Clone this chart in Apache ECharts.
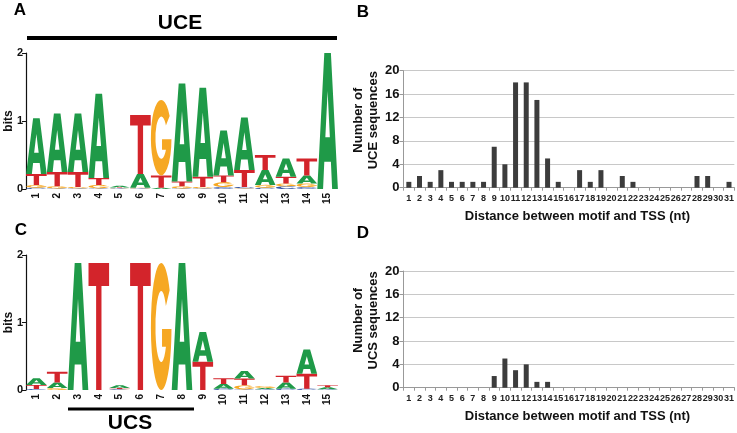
<!DOCTYPE html>
<html><head><meta charset="utf-8">
<script src="https://cdn.jsdelivr.net/npm/echarts@6/dist/echarts.min.js"></script>
<style>html,body{margin:0;padding:0;background:#fff}#c{width:737px;height:433px}</style>
</head><body><div id="c"></div>
<script>
// ---- data ----
const logoPositions = ['1','2','3','4','5','6','7','8','9','10','11','12','13','14','15'];
// UCE logo (bits per letter)
const uceA = [0.82,0.86,0.86,1.24,0.025,0.20,0.02,1.44,1.31,0.66,0.77,0.22,0.27,0.12,2.00];
const uceC = [0.02,0.01,0.01,0.01,0.008,0.01,0.00,0.01,0.01,0.03,0.02,0.02,0.04,0.03,0.00];
const uceG = [0.04,0.03,0.02,0.05,0.005,0.01,1.11,0.03,0.02,0.07,0.01,0.04,0.04,0.05,0.00];
const uceT = [0.16,0.21,0.22,0.10,0.01,0.87,0.18,0.07,0.15,0.10,0.25,0.22,0.10,0.25,0.00];
// UCS logo (bits per letter)
const ucsA = [0.10,0.08,1.88,0.00,0.04,0.00,0.00,1.88,0.44,0.07,0.11,0.02,0.09,0.36,0.03];
const ucsC = [0.015,0.00,0.00,0.00,0.01,0.00,0.00,0.00,0.00,0.02,0.01,0.01,0.02,0.02,0.01];
const ucsG = [0.00,0.03,0.00,0.00,0.005,0.00,1.88,0.00,0.00,0.00,0.06,0.03,0.00,0.00,0.00];
const ucsT = [0.06,0.16,0.00,1.88,0.015,1.88,0.00,0.00,0.42,0.085,0.10,0.00,0.10,0.22,0.03];
// distance histograms
const distanceCats = ['1','2','3','4','5','6','7','8','9','10','11','12','13','14','15','16','17','18','19','20','21','22','23','24','25','26','27','28','29','30','31'];
const uceCounts = [1,2,1,3,1,1,1,1,7,4,18,18,15,5,1,0,3,1,3,0,2,1,0,0,0,0,0,2,2,0,1];
const ucsCounts = [0,0,0,0,0,0,0,0,2,5,3,4,1,1,0,0,0,0,0,0,0,0,0,0,0,0,0,0,0,0,0];

// ---- letter glyphs ----
const LETTERS = ['A','C','G','T'];
const COLORS = {A:'#1f9a48', C:'#3153a4', G:'#f6a823', T:'#d3242b'};
const PATHS = {
  A:'M0,100 L34,0 L66,0 L100,100 L72,100 L66,80 L34,80 L28,100 Z M39,62 L61,62 L50,28 Z',
  T:'M0,0 L100,0 L100,18 L63,18 L63,100 L37,100 L37,18 L0,18 Z',
  G:'M90.96,21.32 A50,50 0 1 0 100,50 L100,52 L54,52 L54,66 L73,66 A28,28 0 1 1 72.9,33.9 Z',
  C:'M90.96,21.32 A50,50 0 1 0 90.96,78.68 L72.9,66.1 A28,28 0 1 1 72.9,33.9 Z'
};
function logoData(a, c, g, t) {
  const out = [];
  for (let i = 0; i < a.length; i++) {
    const items = [[0,a[i]],[1,c[i]],[2,g[i]],[3,t[i]]].filter(d => d[1] > 0).sort((p,q) => p[1]-q[1]);
    let base = 0;
    items.forEach(d => { out.push([i, base, base + d[1], d[0]]); base += d[1]; });
  }
  return out;
}
function renderLetter(params, api) {
  const x = api.value(0), y0 = api.value(1), y1 = api.value(2);
  const L = LETTERS[api.value(3)];
  const pTop = api.coord([x, y1]), pBot = api.coord([x, y0]);
  const bw = api.size([1, 0])[0];
  const w = bw * 0.99, h = pBot[1] - pTop[1];
  if (h < 0.2) return null;
  return {type:'path', shape:{pathData:PATHS[L], x:pTop[0]-w/2, y:pTop[1], width:w, height:h, layout:'cover'}, style:{fill:COLORS[L]}};
}

const FF = '"Liberation Sans", Arial, Helvetica, sans-serif';
const chart = echarts.init(document.getElementById('c'));
function logoX(gi){return {gridIndex:gi,type:'category',data:logoPositions,boundaryGap:true,axisLine:{show:false},axisTick:{show:false},
  axisLabel:{rotate:90,interval:0,fontSize:10,fontWeight:'bold',color:'#111',margin:4,fontFamily:FF}};}
function logoY(gi){return {gridIndex:gi,type:'value',min:0,max:2,interval:1,name:'bits',nameLocation:'middle',nameGap:11,nameMoveOverlap:false,
  nameTextStyle:{fontSize:12,fontWeight:'bold',color:'#111',fontFamily:FF},
  axisLine:{show:true,lineStyle:{color:'#111',width:1.2}},axisTick:{show:true,length:4,lineStyle:{color:'#111'}},
  axisLabel:{fontSize:11,fontWeight:'bold',color:'#111',margin:3,fontFamily:FF},splitLine:{show:false}};}
function barX(gi){return {gridIndex:gi,type:'category',data:distanceCats,boundaryGap:true,
  axisLine:{show:true,lineStyle:{color:'#999'}},axisTick:{show:true,length:3,lineStyle:{color:'#999'}},
  axisLabel:{interval:0,fontSize:9,fontWeight:'bold',color:'#222',margin:6,fontFamily:FF},
  name:'Distance between motif and TSS (nt)',nameLocation:'middle',nameGap:22,
  nameTextStyle:{fontSize:13,fontWeight:'bold',color:'#111',fontFamily:FF,padding:[0,0,0,17]}};}
function barY(gi,name){return {gridIndex:gi,type:'value',min:0,max:20,interval:4,
  axisLine:{show:true,lineStyle:{color:'#999'}},axisTick:{show:true,length:4,lineStyle:{color:'#999'}},
  axisLabel:{fontSize:13,fontWeight:'bold',color:'#111',margin:4,fontFamily:FF},
  splitLine:{show:true,lineStyle:{color:'#c8c8c8'}},
  name:name,nameLocation:'middle',nameGap:20,
  nameTextStyle:{fontSize:13,fontWeight:'bold',color:'#111',lineHeight:15,fontFamily:FF,padding:[0,0,0,18]}};}
function txt(t,x,y,size){return {type:'text',x:x,y:y,style:{text:t,font:'bold '+size+'px '+FF,fill:'#000',align:'center',verticalAlign:'middle',textAlign:'center',textVerticalAlign:'middle'}};}

chart.setOption({
  animation:false,
  backgroundColor:'#fff',
  grid:[
    {left:26,top:53,width:312,height:136},
    {left:403.5,top:70.7,width:332,height:117},
    {left:26,top:255,width:312,height:135},
    {left:403.5,top:271,width:332,height:116.7}
  ],
  xAxis:[logoX(0),barX(1),logoX(2),barX(3)],
  yAxis:[logoY(0),barY(1,'Number of\nUCE sequences'),logoY(2),barY(3,'Number of\nUCS sequences')],
  series:[
    {type:'custom',xAxisIndex:0,yAxisIndex:0,renderItem:renderLetter,data:logoData(uceA,uceC,uceG,uceT),encode:{x:0,y:[1,2]}},
    {type:'bar',xAxisIndex:1,yAxisIndex:1,data:uceCounts,barWidth:5,itemStyle:{color:'#3c3c3c'}},
    {type:'custom',xAxisIndex:2,yAxisIndex:2,renderItem:renderLetter,data:logoData(ucsA,ucsC,ucsG,ucsT),encode:{x:0,y:[1,2]}},
    {type:'bar',xAxisIndex:3,yAxisIndex:3,data:ucsCounts,barWidth:5,itemStyle:{color:'#3c3c3c'}}
  ],
  graphic:[
    txt('A',20,10,17), txt('B',363,12,17), txt('C',21,230,17), txt('D',363,233,17),
    txt('UCE',180,23,21), txt('UCS',130,423,21),
    {type:'line',shape:{x1:27,y1:38,x2:337,y2:38},style:{stroke:'#000',lineWidth:4}},
    {type:'line',shape:{x1:68,y1:409,x2:194,y2:409},style:{stroke:'#000',lineWidth:3}}
  ]
});
</script></body></html>
